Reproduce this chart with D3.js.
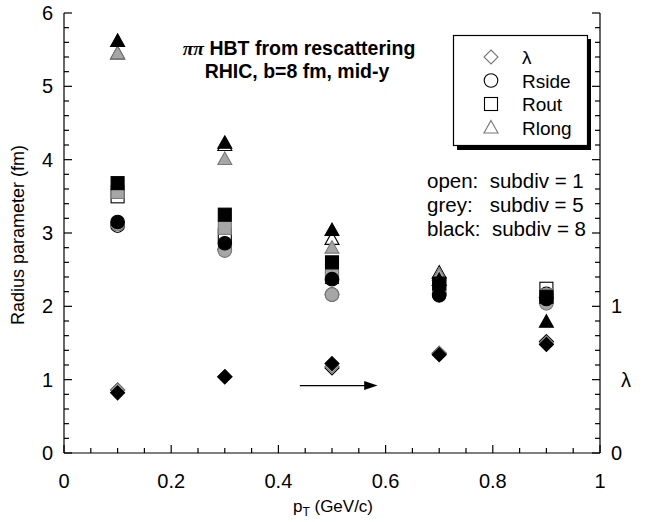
<!DOCTYPE html>
<html><head><meta charset="utf-8">
<script src="https://cdn.jsdelivr.net/npm/d3@7"></script>
<style>body{margin:0;background:#fff}svg{display:block;font-family:"Liberation Sans",Arial,sans-serif}</style>
</head><body><svg id="c" width="657" height="522"></svg>
<script>
const pT = [0.1, 0.3, 0.5, 0.7, 0.9];
// lambda (right axis)
const lamOpen  = [0.43, 0.52, 0.58, 0.68, 0.76];
const lamGrey  = [0.43, 0.52, 0.59, 0.68, 0.75];
const lamBlack = [0.41, 0.52, 0.61, 0.67, 0.74];
// Rside
const sideOpen  = [3.10, 2.78, 2.16, 2.17, 2.17];
const sideGrey  = [3.12, 2.76, 2.16, 2.17, 2.04];
const sideBlack = [3.15, 2.86, 2.37, 2.15, 2.10];
// Rout
const outOpen  = [3.50, 2.97, 2.40, 2.30, 2.24];
const outGrey  = [3.56, 3.07, 2.42, 2.28, 2.15];
const outBlack = [3.68, 3.25, 2.60, 2.31, 2.13];
// Rlong
const longOpen  = [5.45, 4.20, 2.92, 2.46, 2.20];
const longGrey  = [5.45, 4.01, 2.80, 2.43, 2.12];
const longBlack = [5.62, 4.23, 3.04, 2.36, 1.79];

const xTicks = [0, 0.2, 0.4, 0.6, 0.8, 1];
const yTicks = [0, 1, 2, 3, 4, 5, 6];
const yRTicks = [0, 1];
const legendLabels = ["λ", "Rside", "Rout", "Rlong"];
const noteLines = ["open:  subdiv = 1", "grey:   subdiv = 5", "black:  subdiv = 8"];

const svg = d3.select("#c");
const x = d3.scaleLinear().domain([0, 1]).range([64, 600]);
const y = d3.scaleLinear().domain([0, 6]).range([453, 13]);
const yR = d3.scaleLinear().domain([0, 3]).range([453, 13]);

// axes lines
const ax = svg.append("g").attr("stroke", "#000").attr("stroke-width", 1.2);
ax.append("line").attr("x1", 64).attr("x2", 64).attr("y1", 13).attr("y2", 453);
ax.append("line").attr("x1", 600).attr("x2", 600).attr("y1", 13).attr("y2", 453);
ax.append("line").attr("x1", 64).attr("x2", 600).attr("y1", 453).attr("y2", 453);

// ticks (inward)
d3.range(0, 1.0001, 0.05).forEach(v => {
  const major = Math.abs(v * 5 - Math.round(v * 5)) < 1e-6;
  ax.append("line").attr("x1", x(v)).attr("x2", x(v)).attr("y1", 453).attr("y2", 453 - (major ? 8 : 5));
});
d3.range(0, 6.0001, 0.2).forEach(v => {
  const major = Math.abs(v - Math.round(v)) < 1e-6;
  ax.append("line").attr("x1", 64).attr("x2", 64 + (major ? 8 : 5)).attr("y1", y(v)).attr("y2", y(v));
});
d3.range(0, 3.0001, 0.1).forEach(v => {
  const major = Math.abs(v * 2 - Math.round(v * 2)) < 1e-6;
  ax.append("line").attr("x1", 600).attr("x2", 600 - (major ? 8 : 5)).attr("y1", yR(v)).attr("y2", yR(v));
});

const fmt = d => d === 0 ? "0" : (d === 1 ? "1" : d3.format(".1f")(d));
svg.append("g").selectAll("text").data(xTicks).join("text")
  .attr("x", d => x(d)).attr("y", 488).attr("text-anchor", "middle")
  .attr("font-size", 20).text(fmt);
svg.append("g").selectAll("text").data(yTicks).join("text")
  .attr("x", 53).attr("y", d => y(d) + 7).attr("text-anchor", "end")
  .attr("font-size", 20).text(d => d);
svg.append("g").selectAll("text").data(yRTicks).join("text")
  .attr("x", 611).attr("y", d => yR(d) + 7).attr("text-anchor", "start")
  .attr("font-size", 20).text(d => d);

// axis titles
svg.append("text").attr("transform", "translate(24,235) rotate(-90)")
  .attr("text-anchor", "middle").attr("font-size", 18).text("Radius parameter (fm)");
const xt = svg.append("text").attr("x", 333).attr("y", 512).attr("text-anchor", "middle").attr("font-size", 17);
xt.append("tspan").text("p");
xt.append("tspan").attr("font-size", 12).attr("dy", 4).text("T");
xt.append("tspan").attr("dy", -4).text(" (GeV/c)");
svg.append("text").attr("x", 626).attr("y", 387).attr("text-anchor", "middle").attr("font-size", 20).text("λ");

// title
const t1 = svg.append("text").attr("x", 299).attr("y", 55).attr("text-anchor", "middle")
  .attr("font-size", 19.5).attr("font-weight", "bold");
t1.append("tspan").attr("font-family", "'Liberation Serif',serif").attr("font-style", "italic").text("ππ");
t1.append("tspan").text(" HBT from rescattering");
svg.append("text").attr("x", 297).attr("y", 78).attr("text-anchor", "middle")
  .attr("font-size", 19.5).attr("font-weight", "bold").text("RHIC, b=8 fm, mid-y");

// notes
svg.append("g").selectAll("text").data(noteLines).join("text")
  .attr("x", 427).attr("y", (d, i) => 188 + i * 24).attr("font-size", 20.5)
  .attr("xml:space", "preserve").style("white-space", "pre").text(d => d);

// marker drawing
function marker(g, type, cx, cy, fill, stroke) {
  let el;
  if (type === "diamond") {
    el = g.append("path").attr("d", `M${cx},${cy - 7}L${cx + 7},${cy}L${cx},${cy + 7}L${cx - 7},${cy}Z`);
  } else if (type === "circle") {
    el = g.append("circle").attr("cx", cx).attr("cy", cy).attr("r", 6.8);
  } else if (type === "square") {
    el = g.append("rect").attr("x", cx - 6.5).attr("y", cy - 6.5).attr("width", 13).attr("height", 13);
  } else {
    el = g.append("path").attr("d", `M${cx},${cy - 7}L${cx + 7},${cy + 5.5}L${cx - 7},${cy + 5.5}Z`);
  }
  el.attr("fill", fill).attr("stroke", stroke).attr("stroke-width", 1.1);
}

const styles = {
  open: { fill: "#fff", stroke: "#000" },
  grey: { fill: "#a6a6a6", stroke: "#7a7a7a" },
  black: { fill: "#000", stroke: "#000" }
};
const groups = [
  ["open", lamOpen, sideOpen, outOpen, longOpen],
  ["grey", lamGrey, sideGrey, outGrey, longGrey],
  ["black", lamBlack, sideBlack, outBlack, longBlack]
];
const gm = svg.append("g");
groups.forEach(([k, lam, side, out, lng]) => {
  const s = styles[k];
  pT.forEach((p, i) => marker(gm, "diamond", x(p), yR(lam[i]), s.fill, s.stroke));
  pT.forEach((p, i) => marker(gm, "triangle", x(p), y(lng[i]), s.fill, s.stroke));
  pT.forEach((p, i) => marker(gm, "square", x(p), y(out[i]), s.fill, s.stroke));
  pT.forEach((p, i) => marker(gm, "circle", x(p), y(side[i]), s.fill, s.stroke));
});

// arrow pointing to right axis
const ay = y(0.92);
svg.append("line").attr("x1", x(0.44)).attr("x2", x(0.565)).attr("y1", ay).attr("y2", ay)
  .attr("stroke", "#000").attr("stroke-width", 1.2);
svg.append("path").attr("d", `M${x(0.585)},${ay}L${x(0.56)},${ay - 4.5}L${x(0.56)},${ay + 4.5}Z`).attr("fill", "#000");

// legend
const lg = svg.append("g");
lg.append("rect").attr("x", 457).attr("y", 39).attr("width", 134).attr("height", 111).attr("fill", "#000");
lg.append("rect").attr("x", 453.5).attr("y", 35.5).attr("width", 134).attr("height", 110)
  .attr("fill", "#fff").attr("stroke", "#000").attr("stroke-width", 1.2);
const ltypes = ["diamond", "circle", "square", "triangle"];
ltypes.forEach((t, i) => {
  const cy = 57 + i * 23.5;
  marker(lg, t, 491, cy, "#fff", t === "diamond" || t === "triangle" ? "#777" : "#000");
  lg.append("text").attr("x", 522).attr("y", cy + 7).attr("font-size", 19).text(legendLabels[i]);
});
</script></body></html>
